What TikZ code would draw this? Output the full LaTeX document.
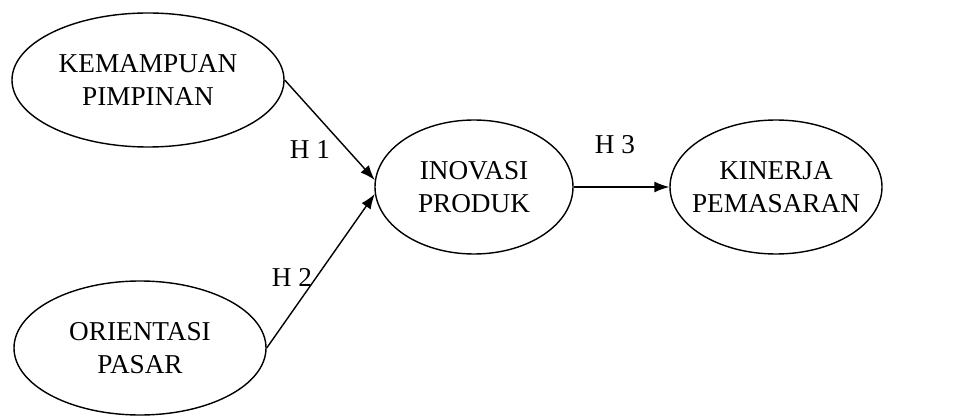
\documentclass[tikz,border=0pt]{standalone}
\usepackage{fontspec}
\setmainfont{Liberation Serif}
\usepackage{tikz}
\usetikzlibrary{shapes,arrows.meta,positioning}
\tikzstyle{var} = [draw, ellipse, line width=0.8pt,
    inner sep=0pt, minimum height=2.68cm]
\tikzstyle{varname} = [align=center, inner sep=0pt,
    font=\fontsize{15.5}{18.5}\selectfont]
\tikzstyle{hyp} = [font=\fontsize{15.5}{18.5}\selectfont, inner sep=0pt]
\tikzstyle{connector} = [-{Latex[length=3mm,width=2.2mm]}, line width=0.8pt]

\begin{document}
\begin{tikzpicture}
		\useasboundingbox (0,0) rectangle (19.2,8.34);
		\node[var, minimum width=5.44cm, label={[varname]center:KEMAMPUAN\\PIMPINAN}] (KP) at (2.96,6.74) {};
		\node[var, minimum width=5.04cm, label={[varname]center:ORIENTASI\\PASAR}] (OP) at (2.8,1.38) {};
		\node[var, minimum width=3.96cm, label={[varname]center:INOVASI\\PRODUK}] (IP) at (9.48,4.6) {};
		\node[var, minimum width=4.24cm, label={[varname]center:KINERJA\\PEMASARAN}] (KIN) at (15.52,4.6) {};
		
		\node[hyp] (H1) at (6.2,5.34) {H 1};
		\node[hyp] (H2) at (5.84,2.8) {H 2};
		\node[hyp] (H3) at (12.3,5.44) {H 3};
		
		\draw[connector] (KP.east) to (IP.176);
		\draw[connector] (OP.east) to (IP.184);
		\draw[connector] (IP.east) to (KIN.west);
	\end{tikzpicture}
\end{document}
